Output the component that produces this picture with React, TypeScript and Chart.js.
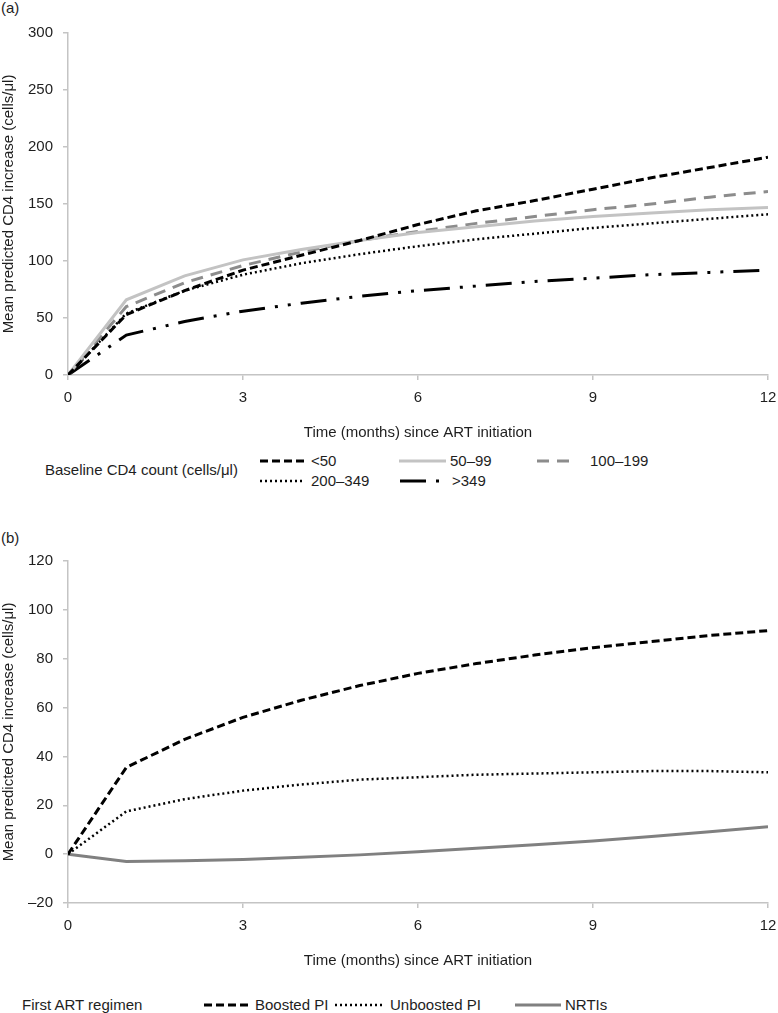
import React, { useEffect, useRef } from "react";
import { Chart, registerables } from "chart.js";

Chart.register(...registerables);

// ---------- data ----------
const months = [0, 1, 2, 3, 4, 5, 6, 7, 8, 9, 10, 11, 12];
const xTicks = [0, 3, 6, 9, 12];

// (a) by baseline CD4 count
const cd4Lt50 = [0, 53, 74, 92, 105, 118, 132, 144, 153, 163, 173, 182, 191];
const cd4_50_99 = [0, 66, 87, 101, 110, 118, 125, 130, 135, 139, 142, 145, 147];
const cd4_100_199 = [0, 60, 81, 96, 108, 118, 126, 133, 139, 145, 150, 156, 161];
const cd4_200_349 = [0, 54, 74, 88, 98, 106, 113, 119, 124, 129, 133, 137, 141];
const cd4Gt349 = [0, 35, 47, 56, 63, 69, 74, 78, 82, 85, 88, 90, 92];
const legendA = ["<50", "50–99", "100–199", "200–349", ">349"];

// (b) by first ART regimen
const boostedPI = [0, 35.5, 47, 56, 63, 69, 74, 78, 81.5, 84.5, 87, 89.5, 91.5];
const unboostedPI = [0, 17.5, 22.5, 26, 28.5, 30.5, 31.5, 32.5, 33, 33.5, 34, 34, 33.5];
const nrtis = [0, -3, -2.7, -2.2, -1.3, -0.3, 1, 2.4, 3.8, 5.4, 7.2, 9.2, 11.2];
const legendB = ["Boosted PI", "Unboosted PI", "NRTIs"];

const yTitle = "Mean predicted CD4 increase (cells/μl)";
const xTitle = "Time (months) since ART initiation";

// ---------- styles ----------
const FONT = '"Liberation Sans", Arial, Helvetica, sans-serif';
const TEXT = "#1e1e1e";
const AXIS = "#c4c4c4";

type LineStyle = { color: string; width: number; dash: number[] };
const sDash: LineStyle = { color: "#000000", width: 3, dash: [8, 4] };
const sLight: LineStyle = { color: "#c3c3c3", width: 3, dash: [] };
const sGrayDash: LineStyle = { color: "#8c8c8c", width: 3, dash: [12, 8] };
const sDot: LineStyle = { color: "#000000", width: 2.5, dash: [2, 3] };
const sDashDot: LineStyle = { color: "#000000", width: 3, dash: [26, 10, 3, 10, 3, 10] };
const sGraySolid: LineStyle = { color: "#808080", width: 3, dash: [] };

function toPoints(vals: number[]) {
  return months.map((m, i) => ({ x: m, y: vals[i] }));
}

function ds(label: string, vals: number[], s: LineStyle) {
  return {
    label,
    data: toPoints(vals),
    borderColor: s.color,
    borderWidth: s.width,
    borderDash: s.dash,
    borderCapStyle: "butt" as const,
    pointRadius: 0,
    tension: 0,
    fill: false,
  };
}

function Panel({ top, datasets, yMin, yMax, yStep }: any) {
  const ref = useRef<HTMLCanvasElement | null>(null);
  useEffect(() => {
    if (!ref.current) return;
    const chart = new Chart(ref.current, {
      type: "line",
      data: { datasets },
      options: {
        animation: false,
        responsive: false,
        devicePixelRatio: 1,
        layout: { padding: { left: 0, right: 10, top: 33, bottom: 0 } },
        plugins: { legend: { display: false }, tooltip: { enabled: false } },
        scales: {
          x: {
            type: "linear",
            min: 0,
            max: 12,
            afterBuildTicks: (s: any) => {
              s.ticks = xTicks.map((v) => ({ value: v }));
            },
            afterFit: (s: any) => {
              s.height = 67;
              s.paddingLeft = 0;
              s.paddingRight = 0;
            },
            grid: { drawOnChartArea: false, drawTicks: true, tickLength: 5, color: AXIS, lineWidth: 1.5 },
            border: { display: true, color: AXIS, width: 1.5 },
            ticks: { padding: 9, color: TEXT, font: { family: FONT, size: 15 }, maxRotation: 0 },
            title: { display: true, text: xTitle, color: TEXT, font: { family: FONT, size: 15 }, padding: 0 },
          },
          y: {
            type: "linear",
            min: yMin,
            max: yMax,
            ticks: {
              stepSize: yStep,
              padding: 10,
              color: TEXT,
              font: { family: FONT, size: 15 },
              callback: (v: any) => (v < 0 ? "–" + Math.abs(v) : String(v)),
            },
            afterFit: (s: any) => {
              s.width = 68;
              s.paddingTop = 0;
              s.paddingBottom = 0;
            },
            grid: { drawOnChartArea: false, drawTicks: true, tickLength: 5, color: AXIS, lineWidth: 1.5 },
            border: { display: true, color: AXIS, width: 1.5 },
            title: { display: true, text: yTitle, color: TEXT, font: { family: FONT, size: 15 }, padding: 0 },
          },
        },
      },
    } as any);
    return () => chart.destroy();
  }, []);
  return (
    <canvas
      ref={ref}
      width={778}
      height={442}
      style={{ position: "absolute", left: 0, top, width: 778, height: 442, display: "block" }}
    />
  );
}

function Sample({ left, cy, width, s }: { left: number; cy: number; width: number; s: LineStyle }) {
  return (
    <svg
      width={width}
      height={8}
      style={{ position: "absolute", left, top: cy - 4, overflow: "visible" }}
    >
      <line
        x1={0}
        y1={4}
        x2={width}
        y2={4}
        stroke={s.color}
        strokeWidth={s.width}
        strokeDasharray={s.dash.length ? s.dash.join(" ") : undefined}
      />
    </svg>
  );
}

function Label({ left, cy, text }: { left: number; cy: number; text: string }) {
  return (
    <div
      style={{
        position: "absolute",
        left,
        top: cy - 9,
        height: 18,
        lineHeight: "18px",
        fontSize: 15,
        fontFamily: FONT,
        color: TEXT,
        whiteSpace: "nowrap",
      }}
    >
      {text}
    </div>
  );
}

export default function App() {
  const dsA = [
    ds(legendA[0], cd4Lt50, sDash),
    ds(legendA[1], cd4_50_99, sLight),
    ds(legendA[2], cd4_100_199, sGrayDash),
    ds(legendA[3], cd4_200_349, sDot),
    ds(legendA[4], cd4Gt349, sDashDot),
  ];
  const dsB = [
    ds(legendB[0], boostedPI, sDash),
    ds(legendB[1], unboostedPI, sDot),
    ds(legendB[2], nrtis, sGraySolid),
  ];
  return (
    <div style={{ position: "absolute", left: 0, top: 0, width: 778, height: 1013, background: "#fff", overflow: "hidden" }}>
      <Label left={1} cy={8} text="(a)" />
      <Panel top={0} datasets={dsA} yMin={0} yMax={300} yStep={50} />
      <Label left={45} cy={470} text="Baseline CD4 count (cells/μl)" />
      <Sample left={260} cy={461} width={46} s={sDash} />
      <Label left={311} cy={461} text={legendA[0]} />
      <Sample left={399} cy={461} width={47} s={sLight} />
      <Label left={450} cy={461} text={legendA[1]} />
      <Sample left={537} cy={461} width={40} s={sGrayDash} />
      <Label left={590} cy={461} text={legendA[2]} />
      <Sample left={260} cy={481} width={42} s={sDot} />
      <Label left={311} cy={481} text={legendA[3]} />
      <Sample left={400} cy={481} width={46} s={sDashDot} />
      <Label left={452} cy={481} text={legendA[4]} />

      <Label left={1} cy={538} text="(b)" />
      <Panel top={528} datasets={dsB} yMin={-20} yMax={120} yStep={20} />
      <Label left={22} cy={1005} text="First ART regimen" />
      <Sample left={204} cy={1005} width={48} s={sDash} />
      <Label left={255} cy={1005} text={legendB[0]} />
      <Sample left={335} cy={1005} width={48} s={sDot} />
      <Label left={390} cy={1005} text={legendB[1]} />
      <Sample left={515} cy={1005} width={46} s={sGraySolid} />
      <Label left={565} cy={1005} text={legendB[2]} />
    </div>
  );
}
